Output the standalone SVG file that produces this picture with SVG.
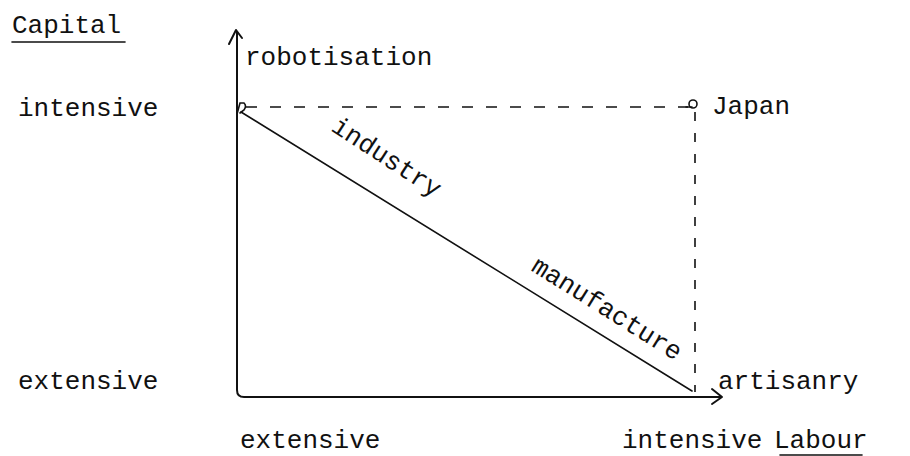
<svg xmlns="http://www.w3.org/2000/svg" width="910" height="456" viewBox="0 0 910 456">
  <style>
    text { font-family: "Liberation Mono", "DejaVu Sans Mono", monospace; font-size: 26px; fill: #111; }
    .ax { fill: none; stroke: #111; stroke-width: 2; stroke-linecap: round; stroke-linejoin: round; }
    .ln { fill: none; stroke: #111; stroke-width: 1.6; stroke-linecap: round; }
    .dash { fill: none; stroke: #111; stroke-width: 1.6; stroke-dasharray: 11 13; }
    .vdash { fill: none; stroke: #111; stroke-width: 1.6; stroke-dasharray: 9 12; }
  </style>
  <rect width="910" height="456" fill="#fff"/>

  <!-- axis titles -->
  <g id="capital-title">
    <text x="12" y="33">Capital</text>
    <line class="ln" x1="12" y1="42" x2="125" y2="42"/>
  </g>
  <g id="labour-title">
    <text x="774" y="448">Labour</text>
    <line class="ln" x1="780" y1="455" x2="862" y2="455" stroke-width="1"/>
  </g>

  <!-- scale labels -->
  <g id="cap-intensive"><text x="18" y="116">intensive</text></g>
  <g id="cap-extensive"><text x="18" y="389">extensive</text></g>
  <g id="lab-extensive"><text x="240" y="448">extensive</text></g>
  <g id="lab-intensive"><text x="622" y="448">intensive</text></g>

  <!-- axes and connectors -->
  <g id="connectors">
    <path class="ax" d="M237 32 L237 390 Q237 397 244 397 L721 397"/>
    <path class="ax" d="M229 44 L236 30 L242 38"/>
    <path class="ax" d="M712 389 L722 397 L712 404"/>
    <line class="dash" x1="246" y1="107" x2="688" y2="107"/>
    <line class="vdash" x1="695" y1="112" x2="695" y2="392"/>
    <line class="ln" x1="241" y1="112" x2="692" y2="391"/>
  </g>

  <!-- points -->
  <g id="robotisation">
    <path class="ln" d="M237 114 L240 103 L244 103 Q247 106 244 110 L240 113"/>
    <text x="245" y="65">robotisation</text>
  </g>
  <g id="japan">
    <circle class="ln" cx="693" cy="104" r="4"/>
    <line class="ln" x1="686" y1="107" x2="692" y2="107"/>
    <text x="712" y="114">Japan</text>
  </g>
  <g id="artisanry"><text x="718" y="389">artisanry</text></g>

  <!-- labels along the diagonal -->
  <g id="industry"><text transform="translate(330 130) rotate(33)">industry</text></g>
  <g id="manufacture"><text transform="translate(530 270) rotate(32)">manufacture</text></g>
</svg>
